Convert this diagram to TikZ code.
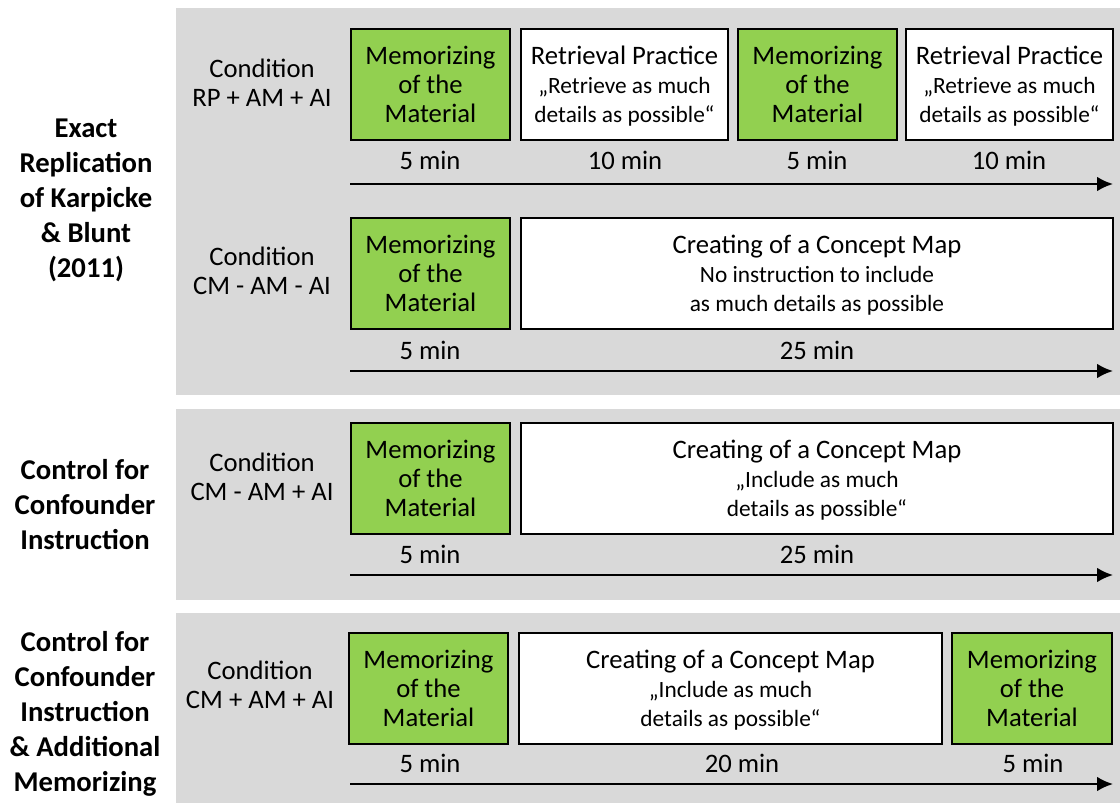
\documentclass[tikz,border=0pt]{standalone}
\usepackage{fontspec}
\setmainfont{Carlito}
\usetikzlibrary{arrows.meta, positioning}
\definecolor{memgreen}{HTML}{92D050}
\definecolor{panelgray}{HTML}{D9D9D9}
\newcommand{\subtext}[1]{{\fontsize{17.5}{21.75}\selectfont #1}}

\begin{document}
\begin{tikzpicture}[x=0.75pt, y=-0.75pt,
    every node/.style={font=\fontsize{20}{21.75}\selectfont},
    mem/.style={draw=black, line width=1.7pt, fill=memgreen, minimum width=119.25pt, minimum height=83.25pt, inner sep=0pt, align=center, text depth=0pt},
    task/.style={draw=black, line width=1.7pt, fill=white, minimum height=83.25pt, inner sep=0pt, align=center, text depth=0pt},
    cond/.style={align=center, inner sep=0pt, text depth=0pt},
    group/.style={align=center, inner sep=0pt, text depth=0pt, font=\fontsize{21.5}{26.25}\selectfont\bfseries},
    dur/.style={anchor=base, inner sep=0pt},
    timeline/.style={line width=1.5pt, -{Latex[length=12pt, width=11pt]}},
    panel/.style={fill=panelgray}]
    \useasboundingbox (0,0) rectangle (1120,803);

    % background panels
    \fill[panel] (176,8) rectangle (1120,395);
    \fill[panel] (176,409) rectangle (1120,600);
    \fill[panel] (176,613) rectangle (1120,803);

    % group labels
    \node[group] (g1) at (86,198) {Exact\\Replication\\of Karpicke\\\& Blunt\\(2011)};
    \node[group] (g2) at (85,504) {Control for\\Confounder\\Instruction};
    \node[group] (g3) at (85,711) {Control for\\Confounder\\Instruction\\\& Additional\\Memorizing};

    % condition RP + AM + AI
    \node[cond] (c1) at (262,83) {Condition\\RP + AM + AI};
    \node[mem] (m1_1) at (430.5,84.5) {Memorizing\\of the\\Material};
    \node[task, minimum width=155.25pt] (rp1_2) at (624.5,84.5) {Retrieval Practice\\\subtext{„Retrieve as much}\\\subtext{details as possible“}};
    \node[mem] (m1_3) at (817.5,84.5) {Memorizing\\of the\\Material};
    \node[task, minimum width=155.25pt] (rp1_4) at (1009.5,84.5) {Retrieval Practice\\\subtext{„Retrieve as much}\\\subtext{details as possible“}};
    \node[dur] (d1_1) at (430,169.5) {5 min};
    \node[dur] (d1_2) at (625,169.5) {10 min};
    \node[dur] (d1_3) at (817,169.5) {5 min};
    \node[dur] (d1_4) at (1009,169.5) {10 min};
    \coordinate (t1s) at (350,184);
    \coordinate (t1e) at (1113,184);
    \draw[timeline] (t1s) -- (t1e);

    % condition CM - AM - AI
    \node[cond] (c2) at (262,271) {Condition\\CM - AM - AI};
    \node[mem] (m2_1) at (430.5,273.5) {Memorizing\\of the\\Material};
    \node[task, minimum width=444pt] (cm2_2) at (817,273.5) {Creating of a Concept Map\\\subtext{No instruction to include}\\\subtext{as much details as possible}};
    \node[dur] (d2_1) at (430,359) {5 min};
    \node[dur] (d2_2) at (817,359) {25 min};
    \coordinate (t2s) at (350,371);
    \coordinate (t2e) at (1113,371);
    \draw[timeline] (t2s) -- (t2e);

    % condition CM - AM + AI
    \node[cond] (c3) at (262,476.5) {Condition\\CM - AM + AI};
    \node[mem] (m3_1) at (430.5,478.5) {Memorizing\\of the\\Material};
    \node[task, minimum width=444pt] (cm3_2) at (817,478.5) {Creating of a Concept Map\\\subtext{„Include as much}\\\subtext{details as possible“}};
    \node[dur] (d3_1) at (430,563) {5 min};
    \node[dur] (d3_2) at (817,563) {25 min};
    \coordinate (t3s) at (350,575);
    \coordinate (t3e) at (1113,575);
    \draw[timeline] (t3s) -- (t3e);

    % condition CM + AM + AI
    \node[cond] (c4) at (260,685) {Condition\\CM + AM + AI};
    \node[mem] (m4_1) at (428.5,688.5) {Memorizing\\of the\\Material};
    \node[task, minimum width=317.25pt] (cm4_2) at (730.5,688.5) {Creating of a Concept Map\\\subtext{„Include as much}\\\subtext{details as possible“}};
    \node[mem, minimum width=120pt] (m4_3) at (1032,688.5) {Memorizing\\of the\\Material};
    \node[dur] (d4_1) at (430,772.5) {5 min};
    \node[dur] (d4_2) at (742,772.5) {20 min};
    \node[dur] (d4_3) at (1033,772.5) {5 min};
    \coordinate (t4s) at (350,784);
    \coordinate (t4e) at (1113,784);
    \draw[timeline] (t4s) -- (t4e);
\end{tikzpicture}
\end{document}
